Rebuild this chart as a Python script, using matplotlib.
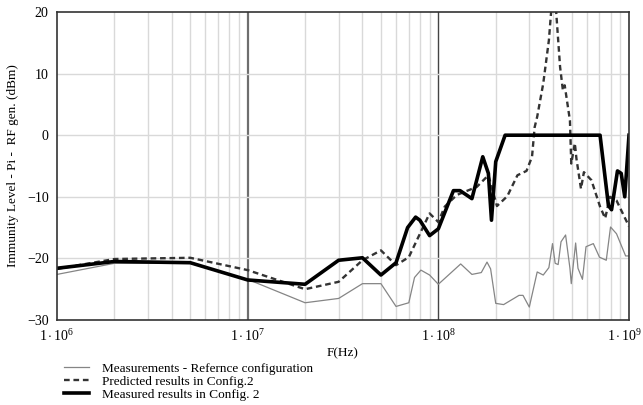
import matplotlib
matplotlib.use("Agg")
import matplotlib.pyplot as plt
import matplotlib.transforms as mtransforms
import numpy as np

plt.rcParams["font.family"] = ["Liberation Serif", "DejaVu Serif"]
plt.rcParams["mathtext.fontset"] = "custom"
plt.rcParams["mathtext.rm"] = "Liberation Serif"
plt.rcParams["mathtext.it"] = "Liberation Serif:italic"

# ── Datos ─────────────────────────────────────────────────────────────────────
ref_f = [1e6, 2e6, 5e6, 1e7, 2e7, 3e7, 4e7, 5e7, 6e7, 7e7, 7.5e7, 8.1e7, 9e7,
         1e8, 1.31e8, 1.5e8, 1.68e8, 1.8e8, 1.88e8, 2.0e8, 2.2e8, 2.65e8, 2.78e8,
         3.0e8, 3.3e8, 3.55e8, 3.8e8, 3.97e8, 4.1e8, 4.25e8, 4.4e8, 4.65e8,
         4.9e8, 4.98e8, 5.25e8, 5.4e8, 5.7e8, 5.95e8, 6.5e8, 7e8, 7.6e8, 8.0e8,
         8.6e8, 9.6e8, 1e9]
ref_db = [-22.6, -20.8, -20.8, -23.4, -27.2, -26.5, -24.1, -24.1, -27.8, -27.2,
          -23.1, -21.9, -22.7, -24.2, -20.9, -22.6, -22.3, -20.6, -21.7, -27.3,
          -27.5, -26.0, -26.0, -27.9, -22.2, -22.7, -21.5, -17.6, -20.8, -21.0,
          -17.3, -16.2, -21.6, -24.1, -17.5, -21.6, -23.4, -18.1, -17.6, -19.8,
          -20.3, -14.9, -16.0, -19.6, -19.6]

pred_f = [1e6, 2e6, 5e6, 1e7, 2e7, 3e7, 4e7, 5e7, 6e7, 7e7, 9e7, 1e8, 1.08e8,
          1.25e8, 1.59e8, 1.83e8, 2.03e8, 2.3e8, 2.6e8, 2.9e8, 3.1e8, 3.2e8,
          3.3e8, 3.55e8, 3.8e8, 3.95e8, 4.05e8, 4.15e8, 4.35e8, 4.5e8, 4.6e8,
          4.9e8, 4.98e8, 5.2e8, 5.3e8, 5.6e8, 5.8e8, 6.35e8, 7.05e8, 7.5e8,
          7.95e8, 8.6e8, 1e9]
pred_db = [-21.7, -20.1, -19.9, -21.9, -25.0, -23.8, -20.3, -18.7, -21.1,
           -19.8, -12.7, -14.1, -11.6, -9.7, -8.4, -6.5, -11.5, -9.9, -6.5,
           -5.8, -3.5, 1.3, 3.0, 8.4, 15.4, 22.0, 24.0, 20.0, 11.1, 7.3, 8.1,
           2.4, -4.6, -1.3, -3.8, -8.7, -6.0, -7.3, -11.6, -13.5, -10.0,
           -10.6, -14.8]

meas_f = [1e6, 2e6, 5e6, 1e7, 2e7, 3e7, 4e7, 5e7, 6e7, 6.9e7, 7.6e7, 8e7, 9e7,
          1e8, 1.2e8, 1.3e8, 1.5e8, 1.71e8, 1.83e8, 1.9e8, 2.0e8, 2.24e8,
          7.05e8, 7.8e8, 8.1e8, 8.7e8, 9.1e8, 9.5e8, 1e9]
meas_db = [-21.6, -20.5, -20.7, -23.5, -24.2, -20.3, -19.9, -22.7, -20.7,
           -15.0, -13.3, -13.8, -16.3, -15.2, -9.0, -9.0, -10.3, -3.5, -6.2,
           -13.8, -4.3, 0.0, 0.0, -11.4, -12.1, -5.8, -6.2, -10.0, 0.0]

labels = ["Measurements - Refernce configuration",
          "Predicted results in Config.2",
          "Measured results in Config. 2"]

# ── Figura ────────────────────────────────────────────────────────────────────
fig = plt.figure(figsize=(6.43, 4.05), dpi=100)
ax = fig.add_axes([57 / 643, 1 - 320 / 405, 572 / 643, 308 / 405])

ax.set_xscale("log")
ax.set_xlim(1e6, 1e9)
ax.set_ylim(-30, 20)

# rejilla
for dec in [1e6, 1e7, 1e8]:
    for k in range(2, 10):
        ax.axvline(dec * k, color="#d9d9d9", lw=1.0, zorder=0)
ax.axvline(1e7, color="#6e6e6e", lw=1.6, zorder=0)
ax.axvline(1e8, color="#444444", lw=1.0, zorder=0)
for yv in [-20, -10, 0, 10]:
    ax.axhline(yv, color="#d9d9d9", lw=1.0, zorder=0)

l1, = ax.plot(ref_f, ref_db, color="#858585", lw=0.9, label=labels[0])
l2, = ax.plot(pred_f, pred_db, color="#333333", lw=1.7, ls=(0, (2.4, 1.6)),
              label=labels[1])
l3, = ax.plot(meas_f, meas_db, color="black", lw=2.6, label=labels[2])

for s in ax.spines.values():
    s.set_color("#333333")
    s.set_linewidth(1.2)

ax.set_xticks([1e6, 1e7, 1e8, 1e9])
ax.set_xticklabels([r"$\mathrm{1\cdot10^{%d}}$" % e for e in [6, 7, 8, 9]])
ax.xaxis.set_minor_locator(matplotlib.ticker.NullLocator())
ax.set_yticks([-30, -20, -10, 0, 10, 20])
ax.tick_params(length=0, labelsize=10, pad=6)
# última etiqueta un poco a la izquierda para que no se corte
last = ax.get_xticklabels()[-1]
last.set_transform(last.get_transform()
                   + mtransforms.ScaledTranslation(-0.04, 0, fig.dpi_scale_trans))

ax.set_xlabel("F(Hz)", fontsize=9.5, labelpad=2)
ax.set_ylabel("Immunity Level - Pi -  RF gen. (dBm)", fontsize=9.5, labelpad=6)

fig.legend(handles=[l1, l2, l3], loc="upper left",
           bbox_to_anchor=(57 / 643, 1 - 356 / 405), frameon=False,
           borderpad=0, fontsize=9.5, handlelength=1.9, labelspacing=0.05,
           handletextpad=1.0)

fig.savefig("out.png", dpi=100)
